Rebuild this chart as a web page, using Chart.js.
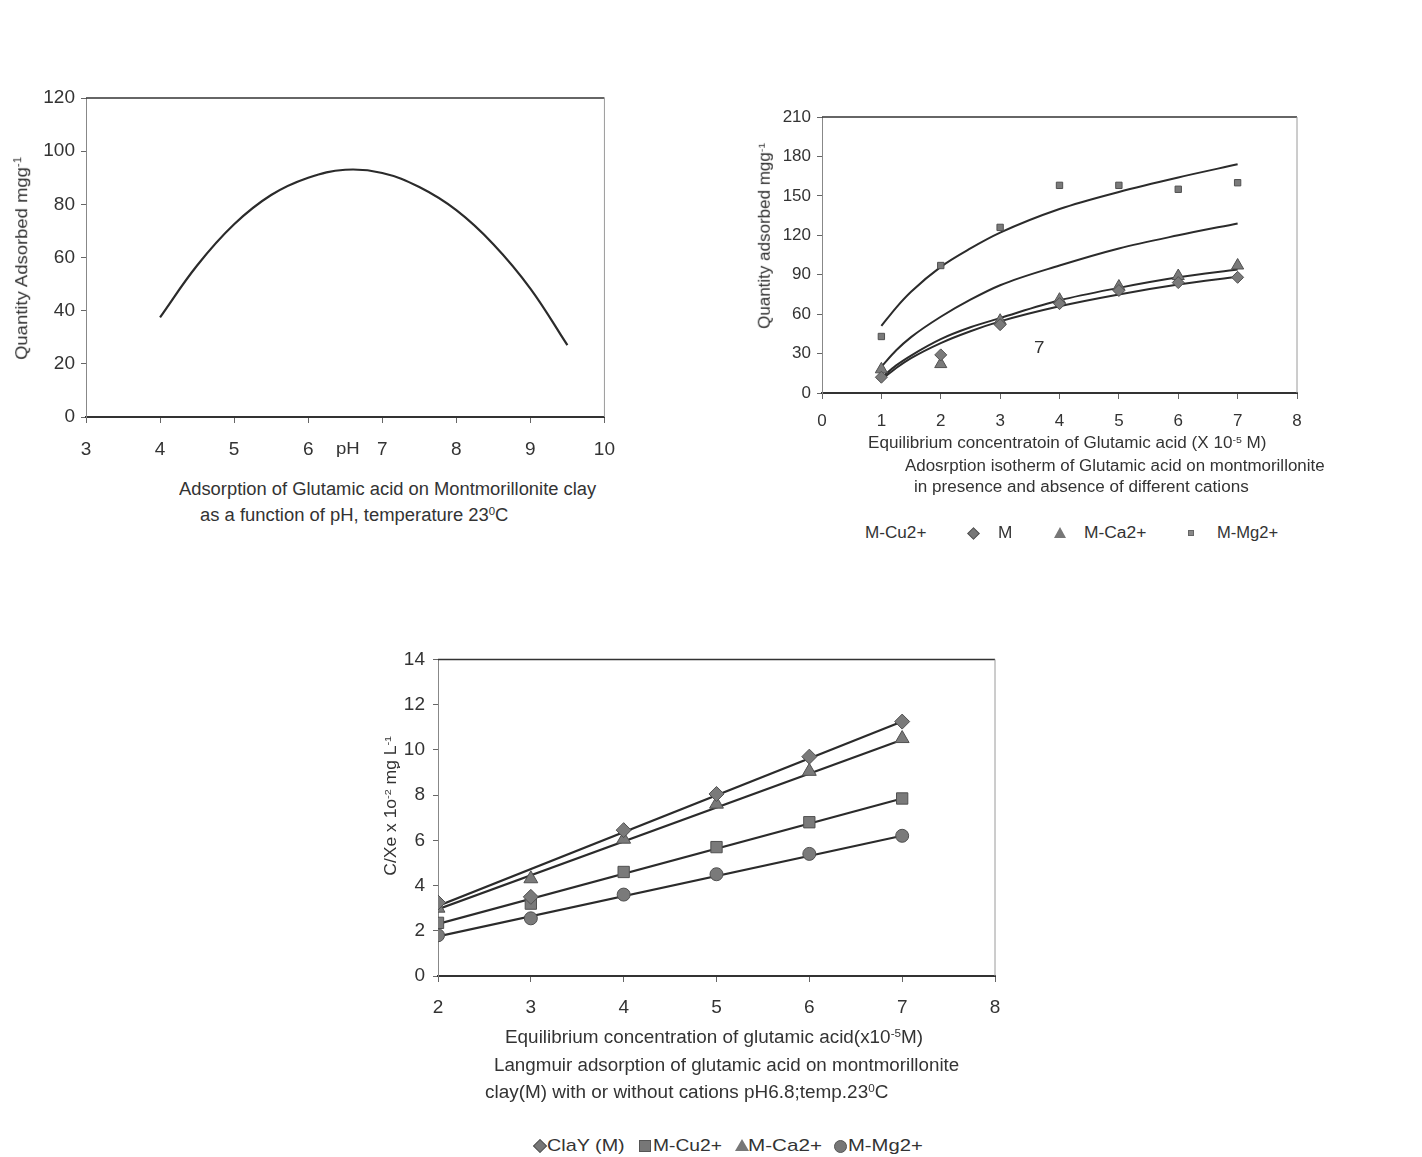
<!DOCTYPE html>
<html>
<head>
<meta charset="utf-8">
<script src="https://cdn.jsdelivr.net/npm/chart.js@4/dist/chart.umd.min.js"></script>
<style>
html,body{margin:0;padding:0;background:#fff;}
body{width:1422px;height:1157px;position:relative;overflow:hidden;font-family:"Liberation Sans",Arial,sans-serif;color:#333;}
.c{position:absolute;}
.t{position:absolute;white-space:nowrap;line-height:1.1;transform-origin:0 50%;}
.sup{font-size:0.62em;position:relative;top:-0.55em;}
.m{position:absolute;background:#777;}
.dia{transform:rotate(45deg);border:1px solid #555;box-sizing:border-box;}
.cir{border-radius:50%;border:1px solid #555;box-sizing:border-box;}
.tri{background:transparent;width:0;height:0;}
</style>
</head>
<body>
<canvas id="c1" class="c" width="630" height="390" style="left:0px;top:80px"></canvas>
<canvas id="c2" class="c" width="600" height="340" style="left:740px;top:100px"></canvas>
<canvas id="c3" class="c" width="650" height="390" style="left:370px;top:640px"></canvas>

<!-- chart 1 texts -->
<div class="t" data-cx="22" data-cy="258" data-w="203" style="font-size:17px">Quantity Adsorbed mgg<span class="sup">-1</span></div>
<div class="t" data-x="336" data-y="449" data-w="24" style="font-size:17px">pH</div>
<div class="t" data-x="179" data-y="490" data-w="417" style="font-size:18px">Adsorption of Glutamic acid on Montmorillonite clay</div>
<div class="t" data-x="200" data-y="516" data-w="308" style="font-size:18px">as a function of pH, temperature 23<span class="sup">0</span>C</div>

<!-- chart 2 texts -->
<div class="t" data-cx="764" data-cy="236" data-w="186" style="font-size:16px">Quantity adsorbed mgg<span class="sup">-1</span></div>
<div class="t" data-x="868" data-y="443" data-w="398" style="font-size:16px">Equilibrium concentratoin of Glutamic acid (X 10<span class="sup">-5</span> M)</div>
<div class="t" data-x="905" data-y="466" data-w="420" style="font-size:16px">Adosrption isotherm of Glutamic acid on montmorillonite</div>
<div class="t" data-x="914" data-y="487" data-w="335" style="font-size:16px">in presence and absence of different cations</div>
<div class="t" data-x="1034" data-y="348" data-w="10" style="font-size:17px">7</div>
<div class="t" data-x="865" data-y="533" data-w="61" style="font-size:16px">M-Cu2+</div>
<div class="t" data-x="998" data-y="533" data-w="14" style="font-size:16px">M</div>
<div class="t" data-x="1084" data-y="533" data-w="62" style="font-size:16px">M-Ca2+</div>
<div class="t" data-x="1217" data-y="533" data-w="61" style="font-size:16px">M-Mg2+</div>
<div class="m dia" data-mx="973" data-my="533" style="width:9px;height:9px"></div>
<div class="m tri" data-mx="1060" data-my="532" style="border-left:6px solid transparent;border-right:6px solid transparent;border-bottom:11px solid #777"></div>
<div class="m" data-mx="1191" data-my="533" style="width:6px;height:6px;background:#888;border:1px solid #666;box-sizing:border-box"></div>

<!-- chart 3 texts -->
<div class="t" data-cx="391" data-cy="806" data-w="140" style="font-size:16px">C/Xe x 1o<span class="sup">-2</span> mg L<span class="sup">-1</span></div>
<div class="t" data-x="397" data-y="763" data-w="4" style="font-size:16px">.</div>
<div class="t" data-x="505" data-y="1038" data-w="418" style="font-size:18px">Equilibrium concentration of glutamic acid(x10<span class="sup">-5</span>M)</div>
<div class="t" data-x="494" data-y="1066" data-w="465" style="font-size:18px">Langmuir adsorption of glutamic acid on montmorillonite</div>
<div class="t" data-x="485" data-y="1093" data-w="403" style="font-size:18px">clay(M) with or without cations pH6.8;temp.23<span class="sup">0</span>C</div>
<div class="t" data-x="547" data-y="1146" data-w="78" style="font-size:17px">ClaY (M)</div>
<div class="t" data-x="653" data-y="1146" data-w="69" style="font-size:17px">M-Cu2+</div>
<div class="t" data-x="748" data-y="1146" data-w="74" style="font-size:17px">M-Ca2+</div>
<div class="t" data-x="848" data-y="1146" data-w="75" style="font-size:17px">M-Mg2+</div>
<div class="m dia" data-mx="540" data-my="1146" style="width:10px;height:10px"></div>
<div class="m" data-mx="645" data-my="1146" style="width:12px;height:12px;border:1px solid #555;box-sizing:border-box"></div>
<div class="m tri" data-mx="742" data-my="1145" style="border-left:7px solid transparent;border-right:7px solid transparent;border-bottom:12px solid #777"></div>
<div class="m cir" data-mx="840" data-my="1146" style="width:13px;height:13px"></div>

<script>
// ---------- Chart 1 data: adsorption vs pH ----------
const phValues = [4, 4.5, 5, 5.5, 6, 6.5, 7, 7.5, 8, 8.5, 9, 9.5];
const qAdsorbed = [37.5, 57, 72.5, 83.5, 90, 93, 91.8, 86.5, 77.8, 65, 48.3, 27];

// ---------- Chart 2 data: adsorption isotherm ----------
const concIso = [1, 2, 3, 4, 5, 6, 7];
const ptsM  = [12, 29, 52, 68, 78, 84, 88];
const ptsCa = [18, 22, 55, 71, 81, 89, 97];
const ptsMg = [43, 97, 126, 158, 158, 155, 160];
// fitted (trend) curves
const concFit = [1, 1.25, 1.5, 2, 2.5, 3, 4, 5, 6, 7];
const fitCu = [20, 32.5, 42.5, 58, 71, 82, 97, 110, 120, 129];
const fitM  = [10, 19, 26.5, 38, 47, 54.5, 66, 75, 82.5, 88.5];
const fitCa = [11.5, 21, 28.5, 41, 50, 57, 70.5, 80, 88, 94];
const fitMg = [51, 65, 77, 96, 110, 122, 140, 153, 164, 174];

// ---------- Chart 3 data: Langmuir ----------
const concLang = [2, 3, 4, 5, 6, 7];
const langClay = [3.25, 3.5, 6.45, 8.05, 9.7, 11.25];
const langCu   = [2.35, 3.2, 4.6, 5.7, 6.8, 7.85];
const langCa   = [3.0, 4.3, 6.05, 7.6, 9.05, 10.5];
const langMg   = [1.8, 2.55, 3.6, 4.5, 5.4, 6.2];
const lineEndsX = [2, 7];
const lineClay = [3.1, 11.25];
const lineCa   = [2.95, 10.45];
const lineCu   = [2.3, 7.85];
const lineMg   = [1.75, 6.2];

// ---------- text layout ----------
document.querySelectorAll('.t').forEach(el => {
  const w = el.offsetWidth, h = el.offsetHeight;
  const s = (+el.dataset.w) / w;
  if (el.dataset.cx) {
    el.style.left = (el.dataset.cx - w / 2) + 'px';
    el.style.top = (el.dataset.cy - h / 2) + 'px';
    el.style.transformOrigin = '50% 50%';
    el.style.transform = 'rotate(-90deg) scaleX(' + s + ')';
  } else {
    el.style.left = el.dataset.x + 'px';
    el.style.top = (el.dataset.y - h / 2) + 'px';
    el.style.transform = 'scaleX(' + s + ')';
  }
});
document.querySelectorAll('.m').forEach(el => {
  const w = el.offsetWidth, h = el.offsetHeight;
  el.style.left = (el.dataset.mx - w / 2) + 'px';
  el.style.top = (el.dataset.my - h / 2) + 'px';
});

// ---------- charts ----------
const FONT = "'Liberation Sans', Arial, sans-serif";
const INK = '#333';
const LINE = '#2b2b2b';
const MFILL = '#7a7a7a';
const MEDGE = '#505050';

const frame = {
  id: 'frame',
  afterDraw(chart) {
    const { ctx, chartArea: a } = chart;
    ctx.save();
    ctx.lineWidth = 1.5; ctx.strokeStyle = '#333';
    ctx.beginPath(); ctx.moveTo(a.left, a.top); ctx.lineTo(a.right, a.top); ctx.stroke();
    ctx.lineWidth = 1; ctx.strokeStyle = '#9a9a9a';
    ctx.beginPath(); ctx.moveTo(a.right, a.top); ctx.lineTo(a.right, a.bottom); ctx.stroke();
    ctx.restore();
  }
};

function axis(min, max, step, o) {
  return {
    type: 'linear', min, max,
    ticks: { stepSize: step, color: INK, font: { family: FONT, size: o.size }, padding: o.pad, autoSkip: false, maxRotation: 0 },
    grid: { drawOnChartArea: false, drawTicks: true, tickLength: o.tl, color: '#666', lineWidth: 1 },
    border: { color: o.bc, width: o.bw },
    afterFit: o.fit
  };
}

function xy(xs, ys) { return ys.map((y, i) => ({ x: xs[i], y })); }

const common = {
  responsive: false, animation: false, devicePixelRatio: 1,
  plugins: { legend: { display: false }, tooltip: { enabled: false } },
  events: []
};

// Chart 1
new Chart(document.getElementById('c1'), {
  type: 'scatter',
  data: { datasets: [{
    data: xy(phValues, qAdsorbed), showLine: true, borderColor: LINE, borderWidth: 2.2,
    pointRadius: 0, tension: 0.4, fill: false
  }] },
  options: Object.assign({}, common, {
    layout: { padding: { top: 18, right: 24, left: 0, bottom: 0 } },
    scales: {
      x: axis(3, 10, 1, { size: 19, pad: 15, tl: 6, bc: '#333', bw: 2, fit: s => { s.height = 53; } }),
      y: axis(0, 120, 20, { size: 19, pad: 6, tl: 5, bc: '#888', bw: 1, fit: s => { s.width = 86; } })
    }
  }),
  plugins: [frame]
});

// Chart 2
const ptStyle = (style, r) => ({ showLine: false, pointStyle: style, pointRadius: r, backgroundColor: MFILL, borderColor: MEDGE, borderWidth: 1 });
const fitStyle = { showLine: true, borderColor: LINE, borderWidth: 2, pointRadius: 0, cubicInterpolationMode: 'monotone', fill: false };
new Chart(document.getElementById('c2'), {
  type: 'scatter',
  data: { datasets: [
    Object.assign({ label: 'M', data: xy(concIso, ptsM) }, ptStyle('rectRot', 6)),
    Object.assign({ label: 'M-Ca2+', data: xy(concIso, ptsCa) }, ptStyle('triangle', 7)),
    Object.assign({ label: 'M-Mg2+', data: xy(concIso, ptsMg) }, ptStyle('rect', 4.5)),
    Object.assign({ label: 'M-Cu2+ fit', data: xy(concFit, fitCu) }, fitStyle),
    Object.assign({ label: 'M fit', data: xy(concFit, fitM) }, fitStyle),
    Object.assign({ label: 'M-Ca2+ fit', data: xy(concFit, fitCa) }, fitStyle),
    Object.assign({ label: 'M-Mg2+ fit', data: xy(concFit, fitMg) }, fitStyle)
  ] },
  options: Object.assign({}, common, {
    layout: { padding: { top: 17, right: 43, left: 0, bottom: 0 } },
    scales: {
      x: axis(0, 8, 1, { size: 17, pad: 12, tl: 6, bc: '#333', bw: 2, fit: s => { s.height = 47; } }),
      y: axis(0, 210, 30, { size: 17, pad: 6, tl: 5, bc: '#888', bw: 1, fit: s => { s.width = 82; } })
    }
  }),
  plugins: [frame]
});

// Chart 3
const lnStyle = { showLine: true, borderColor: LINE, borderWidth: 2.2, pointRadius: 0, fill: false };
new Chart(document.getElementById('c3'), {
  type: 'scatter',
  data: { datasets: [
    Object.assign({ label: 'ClaY (M)', data: xy(concLang, langClay) }, ptStyle('rectRot', 7.5)),
    Object.assign({ label: 'M-Cu2+', data: xy(concLang, langCu) }, ptStyle('rect', 8)),
    Object.assign({ label: 'M-Ca2+', data: xy(concLang, langCa) }, ptStyle('triangle', 8)),
    Object.assign({ label: 'M-Mg2+', data: xy(concLang, langMg) }, ptStyle('circle', 6.5)),
    Object.assign({ label: 'clay line', data: xy(lineEndsX, lineClay) }, lnStyle),
    Object.assign({ label: 'Ca line', data: xy(lineEndsX, lineCa) }, lnStyle),
    Object.assign({ label: 'Cu line', data: xy(lineEndsX, lineCu) }, lnStyle),
    Object.assign({ label: 'Mg line', data: xy(lineEndsX, lineMg) }, lnStyle)
  ] },
  options: Object.assign({}, common, {
    layout: { padding: { top: 16, right: 25, left: 0, bottom: 0 } },
    scales: {
      x: axis(2, 8, 1, { size: 19, pad: 14, tl: 6, bc: '#333', bw: 2, fit: s => { s.height = 54; } }),
      y: axis(0, 14, 2, { size: 19, pad: 8, tl: 5, bc: '#888', bw: 1, fit: s => { s.width = 68; } })
    }
  }),
  plugins: [frame]
});
</script>
</body>
</html>
